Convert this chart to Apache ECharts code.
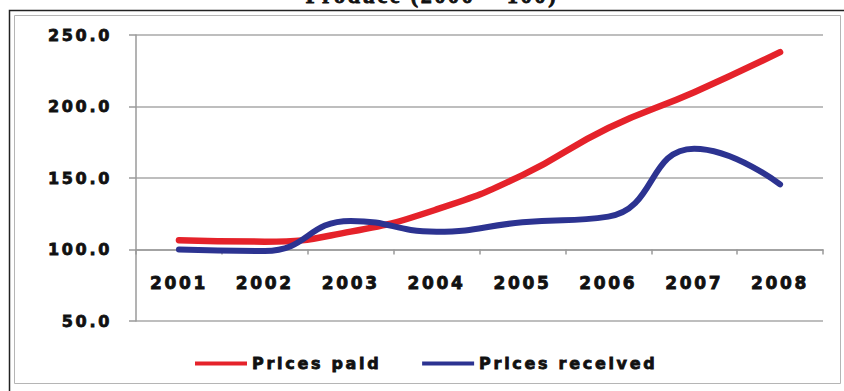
<!DOCTYPE html>
<html>
<head>
<meta charset="utf-8">
<script src="https://cdn.jsdelivr.net/npm/echarts@6/dist/echarts.min.js"></script>
<style>
  html, body { margin: 0; padding: 0; background: #ffffff; }
  #chart { width: 844px; height: 391px; }
  /* widen the heavy sans labels */
  #chart text { letter-spacing: 2.7px; }
</style>
</head>
<body>
<div id="chart"></div>
<script>
// Index values, 2000 = 100
const categories = ['2001', '2002', '2003', '2004', '2005', '2006', '2007', '2008'];
const pricesPaid = [106.5, 105.5, 112.5, 128, 152, 185, 210, 238];
const pricesReceived = [100, 99, 120, 112.5, 119, 123, 170.5, 145.5];
const yTickLabels = ['50.0', '100.0', '150.0', '200.0', '250.0'];
const seriesNames = ['Prices paid', 'Prices received'];
const titleText = 'Produce (2000 = 100)';

const yMin = 50, yMax = 250, yStep = 50, xAxisAt = 100;
const gridTop = 35, gridBottom = 70, chartH = 391;
const plotH = chartH - gridTop - gridBottom;
// category axis sits on the 100 line instead of the bottom edge
const xAxisOffset = -plotH * (xAxisAt - yMin) / (yMax - yMin);

const labelFont = '"DejaVu Sans", "Liberation Sans", Arial, sans-serif';
const ink = '#111111';
const red = '#e5222a';
const blue = '#2c3391';
// a thin outline in the text colour gives the labels a heavier face
const heavy = { textBorderColor: ink, textBorderWidth: 0.8 };

const chart = echarts.init(document.getElementById('chart'), null, { renderer: 'svg' });

chart.setOption({
  backgroundColor: '#ffffff',
  animation: false,
  graphic: [
    { type: 'rect', shape: { x: 9.5, y: 10.5, width: 860, height: 400 },
      style: { fill: 'none', stroke: '#222', lineWidth: 1.5 }, silent: true },
    { type: 'rect', shape: { x: 14.5, y: 15.5, width: 826, height: 368 },
      style: { fill: 'none', stroke: '#b5b5b5', lineWidth: 1 }, silent: true },
    { type: 'text', x: 432, y: -16,
      style: { text: titleText, fill: ink, textAlign: 'center',
               stroke: ink, lineWidth: 0.8,
               font: 'bold 22px "Liberation Serif", "Times New Roman", serif' }, silent: true }
  ],
  legend: {
    left: 190, top: 350,
    itemWidth: 52, itemHeight: 4, itemGap: 70,
    icon: 'rect',
    textStyle: Object.assign({ fontFamily: labelFont, fontWeight: 'bold', fontSize: 16, color: ink }, heavy),
    data: seriesNames
  },
  grid: { left: 136, right: 21, top: gridTop, bottom: gridBottom, containLabel: false },
  xAxis: {
    type: 'category',
    data: categories,
    boundaryGap: true,
    offset: xAxisOffset,
    axisLine: { show: true, lineStyle: { color: '#9a9a9a', width: 1.5 } },
    axisTick: { show: true, length: 5, alignWithLabel: false, lineStyle: { color: '#9a9a9a', width: 1.5 } },
    axisLabel: Object.assign({ margin: 25, fontFamily: labelFont, fontWeight: 'bold', fontSize: 17, color: ink }, heavy),
    splitLine: { show: false }
  },
  yAxis: {
    type: 'value',
    min: yMin, max: yMax, interval: yStep,
    axisLine: { show: true, lineStyle: { color: '#9a9a9a', width: 1.5 } },
    axisTick: { show: true, length: 7, lineStyle: { color: '#9a9a9a', width: 1.5 } },
    axisLabel: Object.assign({
      margin: 24, fontFamily: labelFont, fontWeight: 'bold', fontSize: 16, color: ink,
      formatter: (v) => yTickLabels[Math.round((v - yMin) / yStep)]
    }, heavy),
    splitLine: { show: true, lineStyle: { color: '#a8a8a8', width: 1.5 } }
  },
  series: [
    {
      name: seriesNames[0], type: 'line', data: pricesPaid,
      smooth: 0.5, showSymbol: false, symbol: 'none',
      lineStyle: { color: red, width: 6.5, cap: 'round' },
      itemStyle: { color: red }
    },
    {
      name: seriesNames[1], type: 'line', data: pricesReceived,
      smooth: 0.5, showSymbol: false, symbol: 'none',
      lineStyle: { color: blue, width: 6, cap: 'round' },
      itemStyle: { color: blue }
    }
  ]
});
</script>
</body>
</html>
